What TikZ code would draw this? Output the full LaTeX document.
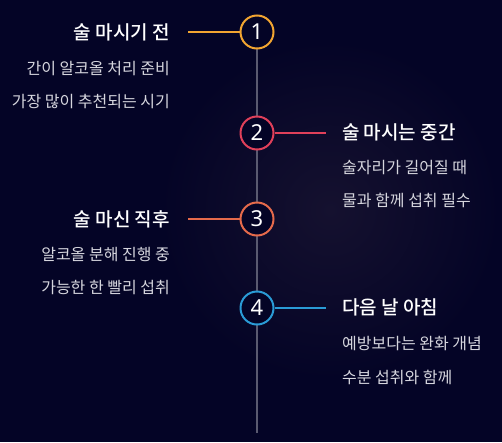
\documentclass[tikz,border=0pt]{standalone}
\usepackage{fontspec}
\setmainfont{Noto Sans CJK KR}
\newfontfamily\numfont{Noto Sans}
\newfontfamily\headfont{Noto Sans CJK KR Medium}
\usetikzlibrary{positioning}

\definecolor{bgnavy}{HTML}{040426}
\definecolor{bgglow}{HTML}{15112F}
\definecolor{spine}{HTML}{5A5A70}
\definecolor{notegray}{HTML}{D6D6DE}
\definecolor{cone}{HTML}{F2A531}
\definecolor{ctwo}{HTML}{E0405A}
\definecolor{cthree}{HTML}{E56A4B}
\definecolor{cfour}{HTML}{2A9BD6}

\tikzset{
  stage/.style={circle, draw=#1, line width=2pt, fill=bgnavy, minimum size=33pt,
    inner sep=0pt, text=white, font=\numfont\fontsize{22}{24}\selectfont},
  title/.style={text=white, inner sep=0pt, font=\headfont\fontsize{19}{22}\selectfont},
  note/.style={text=notegray, inner sep=0pt, font=\fontsize{16}{19}\selectfont},
  link/.style={draw=#1, line width=1.5pt}
}

\begin{document}
\begin{tikzpicture}[x=1pt, y=-1pt]

% ----- Background -----
\fill[bgnavy] (0,0) rectangle (502,442);
\shade[inner color=bgglow, outer color=bgnavy] (330,210) circle (170);
\useasboundingbox (0,0) rectangle (502,442);

% ----- Spine -----
\coordinate (top) at (257,32);
\coordinate (bottom) at (257,433);
\draw[spine, line width=1.5pt] (top) -- (bottom);

% ----- Stages -----
\node[stage=cone]   (s1) at (257,32)  {1};
\node[stage=ctwo]   (s2) at (257,133) {2};
\node[stage=cthree] (s3) at (257,219) {3};
\node[stage=cfour]  (s4) at (257,308) {4};

% ----- Link ends -----
\coordinate (e1) at (188,32);
\coordinate (e2) at (326,133);
\coordinate (e3) at (188,219);
\coordinate (e4) at (326,308);
\draw[link=cone]   (s1.west) -- (e1);
\draw[link=ctwo]   (s2.east) -- (e2);
\draw[link=cthree] (s3.west) -- (e3);
\draw[link=cfour]  (s4.east) -- (e4);

% ----- Texts left -----
\node[title, anchor=east] (t1)  at (170,32)  {술 마시기 전};
\node[note, anchor=east]  (n1a) at (170,69)  {간이 알코올 처리 준비};
\node[note, anchor=east]  (n1b) at (170,102) {가장 많이 추천되는 시기};

\node[title, anchor=east] (t3)  at (170,219) {술 마신 직후};
\node[note, anchor=east]  (n3a) at (170,255) {알코올 분해 진행 중};
\node[note, anchor=east]  (n3b) at (170,288) {가능한 한 빨리 섭취};

% ----- Texts right -----
\node[title, anchor=west] (t2)  at (342,132) {술 마시는 중간};
\node[note, anchor=west]  (n2a) at (342,168) {술자리가 길어질 때};
\node[note, anchor=west]  (n2b) at (342,200) {물과 함께 섭취 필수};

\node[title, anchor=west] (t4)  at (342,307) {다음 날 아침};
\node[note, anchor=west]  (n4a) at (342,344) {예방보다는 완화 개념};
\node[note, anchor=west]  (n4b) at (342,377) {수분 섭취와 함께};

\end{tikzpicture}
\end{document}
